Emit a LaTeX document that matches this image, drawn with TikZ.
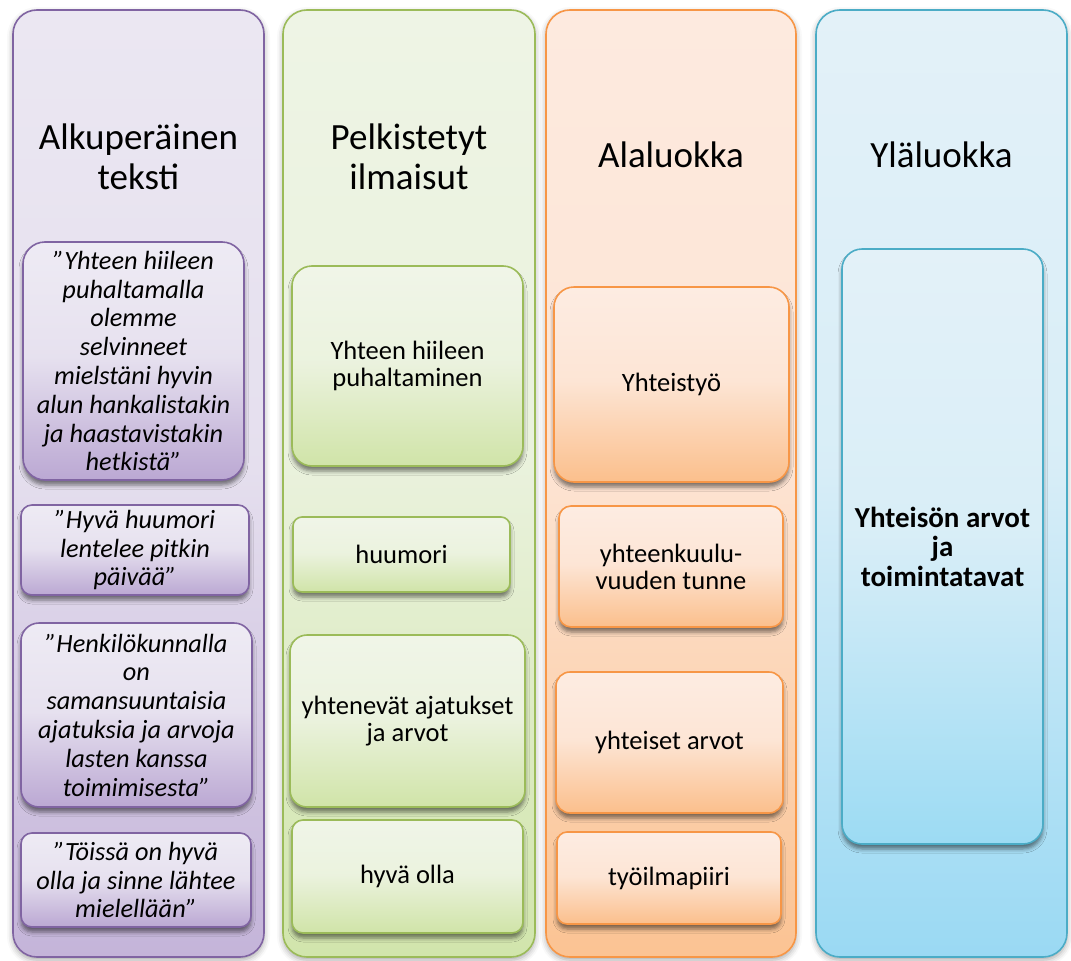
\documentclass[tikz,border=0pt]{standalone}
\usepackage{fontspec}
\setmainfont{Carlito}
\usetikzlibrary{shadows.blur}

\definecolor{pBorder}{HTML}{8064A2}
\definecolor{pColTop}{HTML}{EBE7F2}
\definecolor{pColBot}{HTML}{C4B4D9}
\definecolor{pBoxTop}{HTML}{EEEBF4}
\definecolor{pBoxBot}{HTML}{BBA8D3}
\definecolor{gBorder}{HTML}{9BBB59}
\definecolor{gColTop}{HTML}{EEF4E5}
\definecolor{gColBot}{HTML}{D1E5AC}
\definecolor{gBoxTop}{HTML}{F0F5E8}
\definecolor{gBoxBot}{HTML}{D0E4A8}
\definecolor{oBorder}{HTML}{F79646}
\definecolor{oColTop}{HTML}{FDEADF}
\definecolor{oColBot}{HTML}{FBC393}
\definecolor{oBoxTop}{HTML}{FDECE2}
\definecolor{oBoxBot}{HTML}{FBBF8C}
\definecolor{bBorder}{HTML}{4BACC6}
\definecolor{bColTop}{HTML}{E3F1F8}
\definecolor{bColBot}{HTML}{9AD9F3}
\definecolor{bBoxTop}{HTML}{E3F1F8}
\definecolor{bBoxBot}{HTML}{9CDBF3}

\newcommand\makeshade[3]{%
  \colorlet{#1mid}{#2!85!#3}%
  \pgfdeclareverticalshading{#1}{100bp}{color(0bp)=(#3); color(25bp)=(#3); color(51bp)=(#1mid); color(75bp)=(#2); color(100bp)=(#2)}}
\makeshade{pcol}{pColTop}{pColBot}
\makeshade{pbox}{pBoxTop}{pBoxBot}
\makeshade{gcol}{gColTop}{gColBot}
\makeshade{gbox}{gBoxTop}{gBoxBot}
\makeshade{ocol}{oColTop}{oColBot}
\makeshade{obox}{oBoxTop}{oBoxBot}
\makeshade{bcol}{bColTop}{bColBot}
\makeshade{bbox}{bBoxTop}{bBoxBot}

\tikzset{
  colbox/.style n args={2}{rectangle, rounded corners=24pt, draw=#1, line width=1.6pt,
    shade, shading=#2, minimum width=251pt, minimum height=947pt, inner sep=0pt,
    blur shadow={shadow xshift=0pt, shadow yshift=-3pt, shadow blur radius=6pt, shadow opacity=35}},
  itembox/.style n args={2}{rectangle, draw=#1, line width=1.6pt, shade, shading=#2,
    inner sep=0pt, align=center, font=\fontsize{26.5pt}{27pt}\selectfont,
    blur shadow={shadow xshift=0pt, shadow yshift=-5pt, shadow blur radius=4pt, shadow opacity=50}},
  quote/.style={font=\fontsize{26.3pt}{28.8pt}\selectfont\itshape},
  title/.style={align=center, font=\fontsize{37pt}{40pt}\selectfont, inner sep=0pt},
}

\begin{document}
\begin{tikzpicture}[x=1pt, y=-1pt]
\useasboundingbox (0,0) rectangle (1071,961);

% columns
\node[colbox={pBorder}{pcol}, minimum width=251pt] (c1) at (138.5,483.5) {};
\node[colbox={gBorder}{gcol}, minimum width=252pt] (c2) at (409,483.5) {};
\node[colbox={oBorder}{ocol}, minimum width=250pt] (c3) at (671,483.5) {};
\node[colbox={bBorder}{bcol}, minimum width=251pt] (c4) at (941.5,483.5) {};

% titles
\node[title] (t1) at (138.5,157) {Alkuperäinen\\teksti};
\node[title] (t2) at (409,157) {Pelkistetyt\\ilmaisut};
\node[title] (t3) at (671,155) {Alaluokka};
\node[title] (t4) at (941.5,155) {Yläluokka};

% original text
\node[itembox={pBorder}{pbox}, quote, rounded corners=22pt, minimum width=221pt, minimum height=238pt] (p1) at (133.5,361)
  {”Yhteen hiileen\\puhaltamalla\\olemme\\selvinneet\\mielstäni hyvin\\alun hankalistakin\\ja haastavistakin\\hetkistä”};
\node[itembox={pBorder}{pbox}, quote, rounded corners=11pt, minimum width=228pt, minimum height=90pt] (p2) at (135,550)
  {”Hyvä huumori\\lentelee pitkin\\päivää”};
\node[itembox={pBorder}{pbox}, quote, rounded corners=18pt, minimum width=231pt, minimum height=184pt] (p3) at (136.5,715)
  {”Henkilökunnalla\\on\\samansuuntaisia\\ajatuksia ja arvoja\\lasten kanssa\\toimimisesta”};
\node[itembox={pBorder}{pbox}, quote, rounded corners=11pt, minimum width=230pt, minimum height=94pt] (p4) at (136,880)
  {”Töissä on hyvä\\olla ja sinne lähtee\\mielellään”};

% reduced expressions
\node[itembox={gBorder}{gbox}, rounded corners=20pt, minimum width=231pt, minimum height=200pt] (g1) at (407.5,366)
  {Yhteen hiileen\\puhaltaminen};
\node[itembox={gBorder}{gbox}, rounded corners=9pt, minimum width=217pt, minimum height=75pt] (g2) at (401.5,554.5)
  {huumori};
\node[itembox={gBorder}{gbox}, rounded corners=17pt, minimum width=235pt, minimum height=172pt] (g3) at (407.5,721)
  {yhtenevät ajatukset\\ja arvot};
\node[itembox={gBorder}{gbox}, rounded corners=11pt, minimum width=231pt, minimum height=113pt] (g4) at (407.5,876.5)
  {hyvä olla};

% subcategories
\node[itembox={oBorder}{obox}, rounded corners=20pt, minimum width=235pt, minimum height=195pt] (o1) at (671.5,384.5)
  {Yhteistyö};
\node[itembox={oBorder}{obox}, rounded corners=12pt, minimum width=224pt, minimum height=121pt] (o2) at (671,566.5)
  {yhteenkuulu-\\vuuden tunne};
\node[itembox={oBorder}{obox}, rounded corners=14pt, minimum width=227pt, minimum height=141pt] (o3) at (669.5,742.5)
  {yhteiset arvot};
\node[itembox={oBorder}{obox}, rounded corners=10pt, minimum width=224pt, minimum height=92pt] (o4) at (669,878)
  {työilmapiiri};

% main category
\node[itembox={bBorder}{bbox}, rounded corners=20pt, minimum width=201pt, minimum height=595pt,
  font=\fontsize{29pt}{29.5pt}\selectfont\bfseries] (b1) at (942.5,546.5)
  {Yhteisön arvot\\ja\\toimintatavat};
\end{tikzpicture}
\end{document}
